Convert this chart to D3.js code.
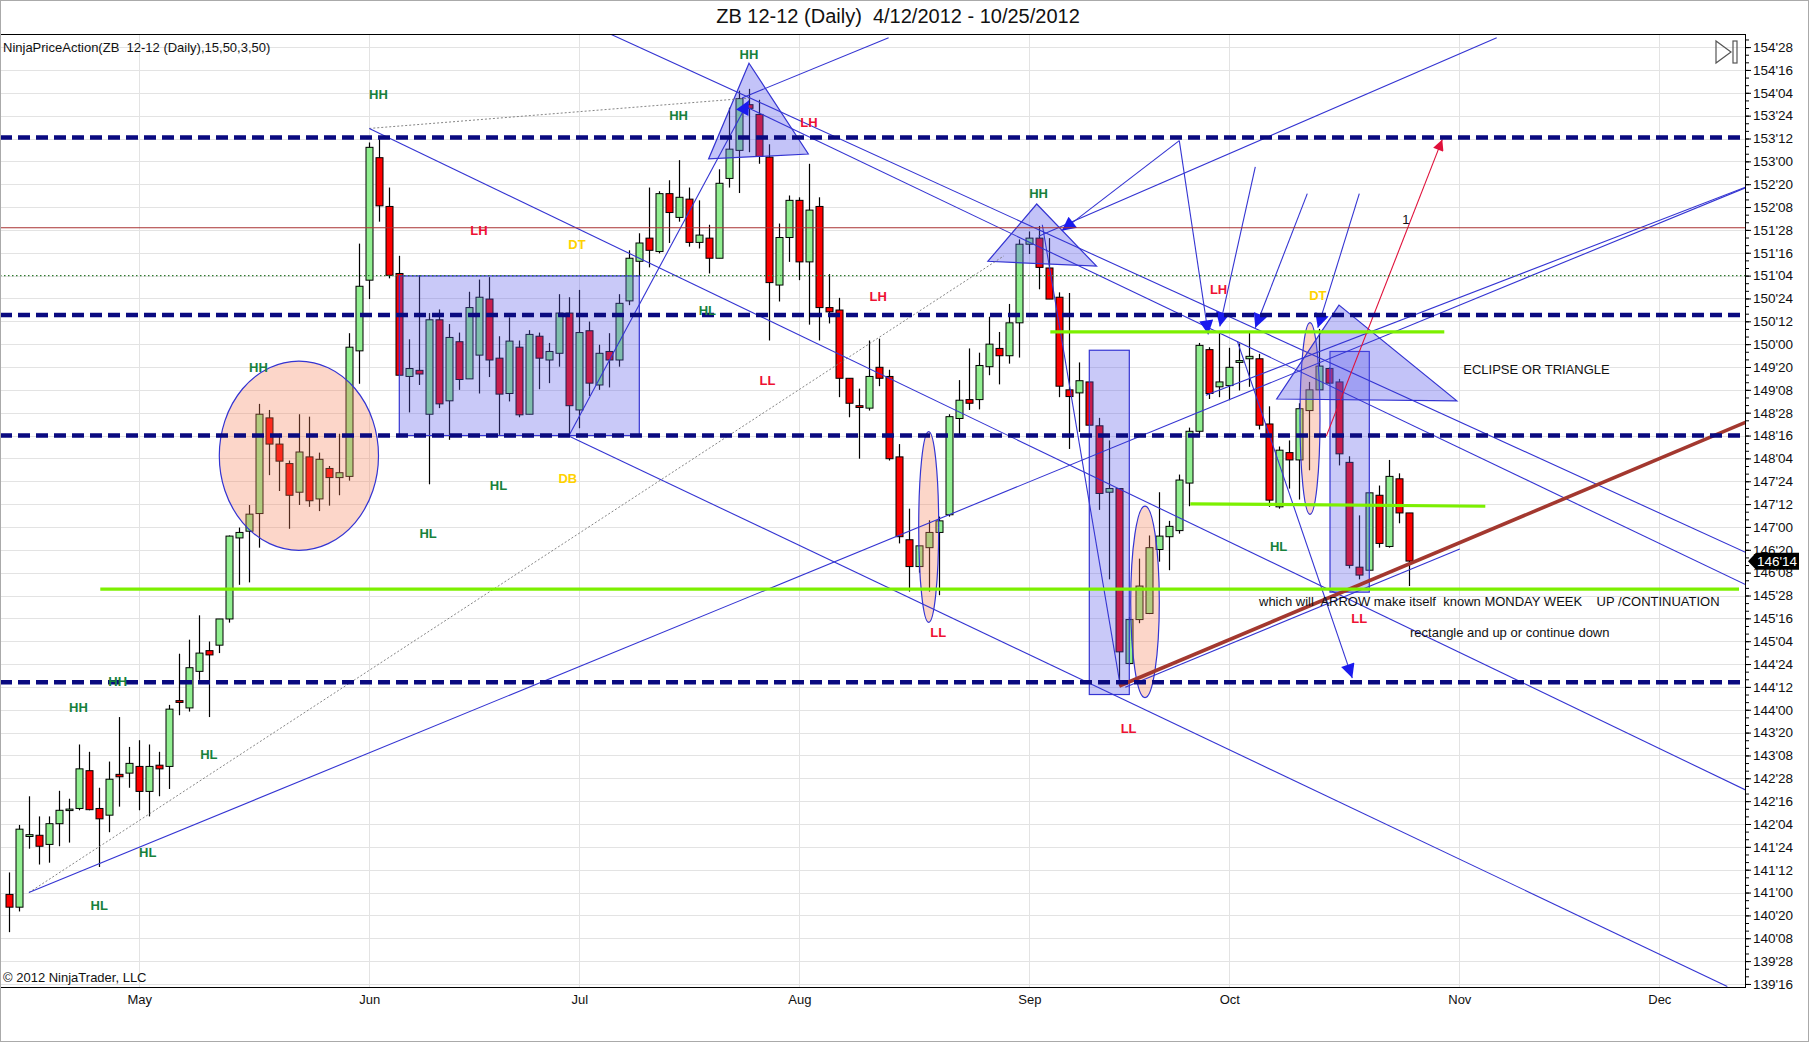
<!DOCTYPE html>
<html>
<head>
<meta charset="utf-8">
<script src="https://cdn.jsdelivr.net/npm/d3@7"></script>
<style>
  body { margin: 0; background: #fff; }
  svg { display: block; }
  text { font-family: "Liberation Sans", Arial, sans-serif; }
</style>
</head>
<body>
<svg id="chart" width="1809" height="1042"></svg>
<script>
// ---------------- DATA ----------------
// Daily bars ZB 12-12, bar index 0 = 4/12/2012 ... 140 = 10/25/2012
const opens = [140.97,140.76,141.92,141.94,141.79,142.13,142.35,142.38,143.00,142.38,
  142.27,142.94,142.96,143.07,142.66,143.09,143.07,144.15,144.03,144.63,
  144.97,145.06,145.49,146.82,146.93,147.22,148.79,148.36,148.04,147.57,
  148.15,147.46,147.96,147.81,147.83,149.89,151.05,153.06,152.26,151.16,
  149.47,149.57,148.85,150.40,149.07,150.04,149.43,149.82,150.74,149.77,
  149.19,149.95,148.85,150.13,149.74,149.85,150.51,148.92,150.22,149.33,
  149.88,149.74,150.71,151.36,151.74,151.52,152.47,152.08,152.38,151.67,
  151.74,151.41,152.72,153.18,153.93,153.77,153.07,150.97,151.75,152.36,
  151.35,152.26,150.60,150.56,149.44,148.99,148.95,149.62,149.47,148.15,
  146.79,146.35,146.66,146.91,147.20,148.78,149.09,149.09,149.63,149.93,
  149.81,150.35,151.64,151.74,151.25,150.77,149.25,149.20,149.38,148.66,
  147.57,147.63,144.76,145.48,145.58,146.63,146.84,146.94,147.72,148.57,
  149.91,149.30,149.32,149.70,149.76,149.76,148.69,147.33,148.22,148.10,
  148.91,149.25,149.60,149.38,148.06,146.34,146.29,147.52,146.68,147.79,
  147.23];
const highs = [141.33,142.11,142.58,142.25,142.25,142.67,142.54,143.43,143.31,142.72,
  143.15,143.88,143.39,143.50,143.43,143.31,144.08,144.92,145.15,145.55,
  145.12,145.49,146.86,146.99,147.36,149.02,148.92,148.53,148.09,148.85,
  148.81,148.22,148.00,148.53,150.18,151.65,153.31,153.40,152.57,151.45,
  150.08,151.13,150.51,150.57,150.33,150.19,150.86,151.06,151.10,150.13,
  150.44,150.06,150.23,150.19,150.02,150.82,150.77,150.89,150.37,149.99,
  150.18,150.82,151.54,151.82,152.57,152.51,152.69,153.02,152.57,152.36,
  151.96,152.87,153.88,154.16,154.19,154.01,153.28,151.98,152.44,152.41,
  152.96,152.41,151.15,150.76,149.44,149.27,150.06,150.09,149.58,148.36,
  147.30,146.69,147.11,147.17,148.85,149.41,149.93,149.86,150.45,150.20,
  150.66,151.72,151.85,151.94,151.74,150.85,150.84,149.70,149.38,148.79,
  148.42,147.63,145.52,146.48,146.86,147.57,147.10,147.86,148.63,150.02,
  149.95,150.18,149.94,150.01,150.20,149.84,148.98,148.32,148.42,149.03,
  149.38,150.25,149.62,149.43,148.16,147.19,147.57,147.68,148.10,147.88,
  147.23];
const lows = [140.35,140.69,141.72,141.46,141.49,141.76,141.82,142.35,142.35,141.42,
  141.99,142.41,142.72,142.35,142.25,142.58,142.70,143.91,143.97,144.49,
  143.88,144.93,145.43,146.05,146.09,146.66,147.85,147.59,146.97,147.36,
  147.33,147.26,147.35,147.52,147.76,149.35,150.74,152.01,151.08,149.49,
  148.88,149.33,147.70,148.95,148.43,149.25,149.43,149.19,149.46,148.51,
  149.06,148.80,148.85,149.26,149.36,149.63,148.51,148.62,149.15,149.25,
  149.29,149.63,150.64,151.11,151.26,151.49,151.66,152.01,151.60,151.57,
  151.16,151.41,152.57,152.48,153.15,152.96,150.06,150.70,151.35,151.05,
  150.32,150.06,150.34,149.13,148.80,148.12,148.91,149.31,148.09,146.73,
  145.94,146.25,145.94,145.88,147.17,148.49,148.92,148.93,149.49,149.34,
  149.68,149.78,151.48,150.90,150.74,149.13,148.28,148.56,148.67,147.28,
  146.14,144.39,144.73,145.42,145.57,146.43,146.29,146.89,147.34,148.48,
  149.10,149.13,149.08,149.24,149.30,148.60,147.33,147.30,147.63,147.45,
  147.93,149.25,149.34,148.01,146.32,146.14,146.28,146.66,146.66,147.06,
  146.03];
const closes = [140.76,142.04,141.95,141.76,142.13,142.35,142.37,143.03,142.36,142.21,
  142.86,142.90,143.12,142.66,143.07,143.03,144.01,144.12,144.69,144.93,
  144.90,145.49,146.85,146.91,147.21,148.85,148.36,148.08,147.52,148.23,
  147.43,148.11,147.81,147.89,149.95,150.95,153.23,152.27,151.13,149.49,
  149.60,149.51,150.40,149.02,150.11,149.42,150.60,150.77,149.74,149.18,
  150.05,148.84,150.16,149.77,149.88,150.51,148.99,150.19,149.36,149.85,
  149.74,150.67,151.41,151.66,151.54,152.47,152.16,152.41,151.67,151.79,
  151.41,152.64,153.20,154.03,153.87,153.08,151.01,151.75,152.36,151.35,
  152.20,150.60,150.53,149.44,149.03,148.96,149.47,149.44,148.12,146.84,
  146.35,146.69,146.91,147.10,148.81,149.08,149.03,149.65,150.00,149.81,
  150.35,151.64,151.74,151.26,150.74,149.31,149.14,149.40,148.67,147.55,
  147.63,144.95,145.48,146.03,146.66,146.85,147.01,147.77,148.57,149.98,
  149.19,149.38,149.62,149.73,149.80,148.67,147.44,148.26,148.10,148.94,
  149.25,149.64,149.36,148.20,146.37,146.21,147.56,146.73,147.83,147.23,
  146.44];

const monthLabels = ["May","Jun","Jul","Aug","Sep","Oct","Nov","Dec"];
const monthBars   = [13, 36, 57, 79, 102, 122, 145, 165];
const lastPrice = 146.4375;
const titleText = "ZB 12-12 (Daily)  4/12/2012 - 10/25/2012";
const indicatorText = "NinjaPriceAction(ZB  12-12 (Daily),15,50,3,50)";
const copyrightText = "\u00A9 2012 NinjaTrader, LLC";

// horizontal drawing levels
const dashedLevels = [153.39, 150.48, 148.5, 144.45];
const redLevel = 151.91;
const dottedLevel = 151.125;
// green horizontal segments [bar1, price1, bar2, price2]
const greenLines = [[9.1,145.98,172.97,145.98],[104.1,150.2,143.5,150.2],[118.1,147.38,147.6,147.34]];
// blue trend lines [bar1, price1, bar2, price2]
const blueLines = [
  [1.96,141.0,173.67,152.57],
  [119.66,149.16,173.67,152.58],
  [36.0,153.54,173.67,142.68],
  [56.0,148.49,171.8,139.46],
  [60.2,155.08,173.67,146.58],
  [73.5,153.91,173.67,146.05],
  [73.27,154.04,87.93,155.03],
  [102.93,151.77,148.74,155.03],
  [103.3,151.96,111.12,144.37],
  [111.6,144.37,145.05,146.64]
];
// arrows [bar1, price1, bar2 (head), price2 (head)]
const blueArrows = [
  [117.0,153.34,105.24,151.86],
  [117.0,153.34,119.9,150.16],
  [124.6,152.91,121.05,150.29],
  [129.8,152.47,124.6,150.27],
  [135.0,152.47,130.85,150.27],
  [56.0,148.51,73.96,154.0],
  [122.8,150.05,134.3,144.52]
];
const redArrows = [[131.7,148.49,143.3,153.36]];
const maroonLine = [111.0,144.39,173.67,148.72];
const grayDotted = [[1.96,141.0,99.47,151.45],[36.0,153.54,74.1,154.04]];
// triangles: three [bar, price] vertices
const triangles = [
  [[73.97,154.61],[69.93,153.04],[79.9,153.12]],
  [[102.74,152.30],[97.86,151.36],[108.72,151.28]],
  [[132.97,150.64],[126.74,149.10],[144.75,149.07]]
];
// rectangles [bar1, bar2, priceTop, priceBottom]
const rects = [[39.0,63.0,151.12,148.5],[108.0,112.0,149.90,144.25],[132.07,136.0,149.88,145.93]];
// ellipses [centerBar, centerPrice, radiusBars, radiusPrice]
const ellipses = [[28.96,148.17,7.96,1.553],[91.94,147.0,1.0,1.566],[113.57,145.77,1.43,1.572],[130.07,148.78,1.0,1.572]];
// swing labels [text, bar, price, kind]
const swingLabels = [
  ["HH",73.97,154.76,"g"],["HH",36.92,154.10,"g"],["HH",66.93,153.76,"g"],["LH",79.97,153.64,"r"],
  ["HH",102.93,152.47,"g"],["LH",46.96,151.86,"r"],["DT",56.77,151.64,"y"],["LH",86.89,150.78,"r"],
  ["HL",69.81,150.56,"g"],["LH",120.93,150.90,"r"],["DT",130.86,150.80,"y"],["HH",24.92,149.61,"g"],
  ["LL",75.81,149.40,"r"],["HL",48.92,147.68,"g"],["DB",55.85,147.79,"y"],["HL",41.88,146.90,"g"],
  ["HL",126.93,146.68,"g"],["LL",92.89,145.26,"r"],["LL",135.0,145.50,"r"],["LL",111.93,143.70,"r"],
  ["HH",10.84,144.46,"g"],["HH",6.92,144.03,"g"],["HL",19.96,143.27,"g"],["HL",13.84,141.66,"g"],
  ["HL",8.99,140.79,"g"]
];
// free text notes [text, bar, price]
const notes = [
  ["ECLIPSE OR TRIANGLE",145.4,149.59],
  ["which will  ARROW make itself  known MONDAY WEEK    UP /CONTINUATION",124.97,145.77],
  ["rectangle and up or continue down",140.07,145.26],
  ["1",139.3,152.04]
];

// ---------------- LAYOUT ----------------
const W = 1809, H = 1042;
const PL = 0, PR = 1746, PT = 34, PB = 987;
const svg = d3.select("#chart");
const x = d3.scaleLinear().domain([-0.93, 173.67]).range([PL, PR]);
const y = d3.scaleLinear().domain([139.45, 155.09]).range([PB, PT]);

const labelColor = {g: "#17813c", r: "#ee1133", y: "#ffd200"};
const blue = "#3434d2";

const fmt32 = v => {
  const ip = Math.floor(v + 1e-9);
  const th = Math.round((v - ip) * 32);
  return ip + "'" + String(th).padStart(2, "0");
};

const defs = svg.append("defs");
defs.append("clipPath").attr("id", "plotclip").append("rect")
  .attr("x", PL).attr("y", PT).attr("width", PR - PL).attr("height", PB - PT);
function marker(id, color, len, wid) {
  defs.append("marker").attr("id", id)
    .attr("viewBox", "0 0 10 10").attr("refX", 10).attr("refY", 5)
    .attr("markerWidth", len).attr("markerHeight", wid)
    .attr("markerUnits", "userSpaceOnUse").attr("orient", "auto")
    .append("path").attr("d", "M0,0L10,5L0,10Z").attr("fill", color);
}
marker("ahBlue", "#1a1aee", 20, 14);
marker("ahRed", "#e0103a", 16, 11);

svg.append("rect").attr("x", 0).attr("y", 0).attr("width", W).attr("height", H).attr("fill", "#fff");

// title
svg.append("text").attr("x", 898).attr("y", 23).attr("text-anchor", "middle")
  .attr("font-size", 20).attr("fill", "#111").style("white-space", "pre").text(titleText);

// gridlines
const majorTicks = d3.range(139.5, 154.9, 0.375);
const minorTicks = d3.range(139.5, 155.05, 0.125);
const grid = svg.append("g");
grid.selectAll("line.h").data(majorTicks).join("line")
  .attr("x1", PL).attr("x2", PR)
  .attr("y1", d => Math.round(y(d)) + 0.5).attr("y2", d => Math.round(y(d)) + 0.5)
  .attr("stroke", "#e3e3e3");
grid.selectAll("line.v").data(monthBars).join("line")
  .attr("x1", d => Math.round(x(d)) + 0.5).attr("x2", d => Math.round(x(d)) + 0.5)
  .attr("y1", PT).attr("y2", PB).attr("stroke", "#e3e3e3");

const plot = svg.append("g").attr("clip-path", "url(#plotclip)");

// candles
const bars = d3.range(opens.length).map(i => ({i, o: opens[i], h: highs[i], l: lows[i], c: closes[i]}));
const cg = plot.append("g");
cg.selectAll("line").data(bars).join("line")
  .attr("x1", d => Math.round(x(d.i)) + 0.5).attr("x2", d => Math.round(x(d.i)) + 0.5)
  .attr("y1", d => y(d.h)).attr("y2", d => y(d.l))
  .attr("stroke", "#000").attr("stroke-width", 1.2);
cg.selectAll("rect").data(bars).join("rect")
  .attr("x", d => Math.round(x(d.i)) - 3)
  .attr("width", 7)
  .attr("y", d => y(Math.max(d.o, d.c)))
  .attr("height", d => Math.max(1.5, Math.abs(y(d.o) - y(d.c))))
  .attr("fill", d => d.c >= d.o ? "#90ee90" : "#ff0000")
  .attr("stroke", "#000").attr("stroke-width", 1);

// shapes
plot.append("g").selectAll("ellipse").data(ellipses).join("ellipse")
  .attr("cx", d => x(d[0])).attr("cy", d => y(d[1]))
  .attr("rx", d => x(d[0] + d[2]) - x(d[0])).attr("ry", d => y(d[1] - d[3]) - y(d[1]))
  .attr("fill", "rgb(245,130,90)").attr("fill-opacity", 0.33)
  .attr("stroke", blue).attr("stroke-width", 1.2);
plot.append("g").selectAll("rect").data(rects).join("rect")
  .attr("x", d => x(d[0])).attr("width", d => x(d[1]) - x(d[0]))
  .attr("y", d => y(d[2])).attr("height", d => y(d[3]) - y(d[2]))
  .attr("fill", "rgb(90,90,235)").attr("fill-opacity", 0.33)
  .attr("stroke", blue).attr("stroke-width", 1.2);
plot.append("g").selectAll("polygon").data(triangles).join("polygon")
  .attr("points", d => d.map(p => x(p[0]) + "," + y(p[1])).join(" "))
  .attr("fill", "rgb(90,90,235)").attr("fill-opacity", 0.36)
  .attr("stroke", blue).attr("stroke-width", 1.2);

// level lines
const lv = plot.append("g");
lv.append("line").attr("x1", PL).attr("x2", PR).attr("y1", y(redLevel)).attr("y2", y(redLevel))
  .attr("stroke", "#a83232").attr("stroke-width", 1.2);
lv.append("line").attr("x1", PL).attr("x2", PR).attr("y1", y(dottedLevel)).attr("y2", y(dottedLevel))
  .attr("stroke", "#2f7a2f").attr("stroke-width", 1.4).attr("stroke-dasharray", "1.5,2.5");
lv.selectAll("line.g").data(greenLines).join("line")
  .attr("x1", d => x(d[0])).attr("y1", d => y(d[1])).attr("x2", d => x(d[2])).attr("y2", d => y(d[3]))
  .attr("stroke", "#7cf000").attr("stroke-width", 3.2);

// trend lines
const tl = plot.append("g");
tl.selectAll("line.gray").data(grayDotted).join("line")
  .attr("x1", d => x(d[0])).attr("y1", d => y(d[1])).attr("x2", d => x(d[2])).attr("y2", d => y(d[3]))
  .attr("stroke", "#777").attr("stroke-width", 0.9).attr("stroke-dasharray", "2,2");
tl.selectAll("line.blue").data(blueLines).join("line")
  .attr("x1", d => x(d[0])).attr("y1", d => y(d[1])).attr("x2", d => x(d[2])).attr("y2", d => y(d[3]))
  .attr("stroke", blue).attr("stroke-width", 1.1);
tl.append("line")
  .attr("x1", x(maroonLine[0])).attr("y1", y(maroonLine[1])).attr("x2", x(maroonLine[2])).attr("y2", y(maroonLine[3]))
  .attr("stroke", "#a3382f").attr("stroke-width", 3.6);
tl.selectAll("line.arr").data(blueArrows).join("line")
  .attr("x1", d => x(d[0])).attr("y1", d => y(d[1])).attr("x2", d => x(d[2])).attr("y2", d => y(d[3]))
  .attr("stroke", blue).attr("stroke-width", 1.1).attr("marker-end", "url(#ahBlue)");
tl.selectAll("line.rarr").data(redArrows).join("line")
  .attr("x1", d => x(d[0])).attr("y1", d => y(d[1])).attr("x2", d => x(d[2])).attr("y2", d => y(d[3]))
  .attr("stroke", "#e0103a").attr("stroke-width", 1.1).attr("marker-end", "url(#ahRed)");

// dashed levels on top
lv.raise();
plot.append("g").selectAll("line").data(dashedLevels).join("line")
  .attr("x1", PL).attr("x2", PR).attr("y1", d => y(d)).attr("y2", d => y(d))
  .attr("stroke", "#0a0a80").attr("stroke-width", 4.5).attr("stroke-dasharray", "12,6");

// labels
plot.append("g").selectAll("text").data(swingLabels).join("text")
  .attr("x", d => x(d[1])).attr("y", d => y(d[2]))
  .attr("text-anchor", "middle").attr("dominant-baseline", "central")
  .attr("font-size", 13).attr("font-weight", "bold")
  .attr("fill", d => labelColor[d[3]]).text(d => d[0]);
plot.append("g").selectAll("text").data(notes).join("text")
  .attr("x", d => x(d[1])).attr("y", d => y(d[2]))
  .attr("dominant-baseline", "central").attr("font-size", 13)
  .style("white-space", "pre").attr("fill", "#111").text(d => d[0]);

plot.append("text").attr("x", 3).attr("y", 52).attr("font-size", 13).attr("fill", "#111")
  .style("white-space", "pre").text(indicatorText);
plot.append("text").attr("x", 3).attr("y", 982).attr("font-size", 13).attr("fill", "#111")
  .text(copyrightText);

// icon top right
const ic = svg.append("g").attr("fill", "none").attr("stroke", "#555").attr("stroke-width", 1.2);
ic.append("polygon").attr("points", "1716,41 1716,63 1731,52");
ic.append("rect").attr("x", 1733).attr("y", 41).attr("width", 4).attr("height", 22);

// plot border
svg.append("rect").attr("x", PL + 0.5).attr("y", PT + 0.5).attr("width", PR - PL - 1).attr("height", PB - PT)
  .attr("fill", "none").attr("stroke", "#000").attr("stroke-width", 1);

// right axis
const axMinor = d3.axisRight(y).tickValues(minorTicks).tickSize(3).tickFormat("");
const axMajor = d3.axisRight(y).tickValues(majorTicks).tickSize(5).tickPadding(2).tickFormat(fmt32);
const gA1 = svg.append("g").attr("transform", `translate(${PR},0)`).call(axMinor);
const gA2 = svg.append("g").attr("transform", `translate(${PR},0)`).call(axMajor);
[gA1, gA2].forEach(g => { g.select(".domain").remove(); g.selectAll("line").attr("stroke", "#000"); });
gA2.selectAll("text").attr("font-size", 13.5).attr("fill", "#111")
  .attr("font-family", '"Liberation Sans", Arial, sans-serif');

// bottom axis (month labels)
const axX = d3.axisBottom(x).tickValues(monthBars).tickSize(0).tickPadding(8)
  .tickFormat((d, i) => monthLabels[i]);
const gX = svg.append("g").attr("transform", `translate(0,${PB})`).call(axX);
gX.select(".domain").remove();
gX.selectAll("text").attr("font-size", 13).attr("fill", "#111")
  .attr("font-family", '"Liberation Sans", Arial, sans-serif');

// last price tag
const ty = y(lastPrice);
svg.append("polygon")
  .attr("points", `${PR + 2},${ty} ${PR + 10},${ty - 8.5} ${PR + 53},${ty - 8.5} ${PR + 53},${ty + 8.5} ${PR + 10},${ty + 8.5}`)
  .attr("fill", "#000");
svg.append("text").attr("x", PR + 11).attr("y", ty).attr("dominant-baseline", "central")
  .attr("font-size", 13.5).attr("fill", "#fff").text(fmt32(lastPrice));

// outer frame
svg.append("rect").attr("x", 0.5).attr("y", 0.5).attr("width", W - 1).attr("height", H - 1)
  .attr("fill", "none").attr("stroke", "#aaa");
</script>
</body>
</html>
